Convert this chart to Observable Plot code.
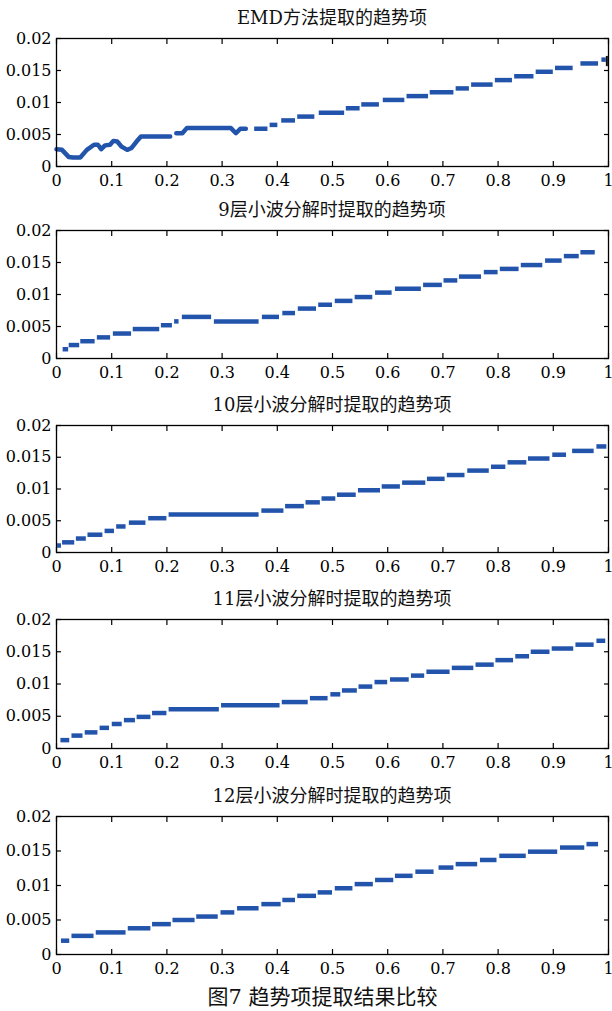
<!DOCTYPE html>
<html><head><meta charset="utf-8">
<script src="https://cdn.jsdelivr.net/npm/d3@7"></script>
<script src="https://cdn.jsdelivr.net/npm/@observablehq/plot@0.6"></script>
<style>
body{margin:0;background:#fff;width:612px;height:1011px;position:relative;overflow:hidden;font-family:"DejaVu Serif","Noto Sans CJK SC",serif;color:#111;}
.panel{position:absolute;left:0;}
.panel svg text{font-family:"DejaVu Serif",serif;}
.title{position:absolute;left:56px;width:552px;text-align:center;font-size:18px;line-height:20px;white-space:nowrap;}
.caption{position:absolute;left:0;width:645px;text-align:center;font-size:21px;line-height:24px;white-space:nowrap;}
</style></head><body>
<script>
// ---- tick labels ----
const xTicks = [0, 0.1, 0.2, 0.3, 0.4, 0.5, 0.6, 0.7, 0.8, 0.9, 1];
const xTickLabels = ["0", "0.1", "0.2", "0.3", "0.4", "0.5", "0.6", "0.7", "0.8", "0.9", "1"];
const yTicks = [0, 0.005, 0.01, 0.015, 0.02];
const yTickLabels = ["0", "0.005", "0.01", "0.015", "0.02"];

const titles = ["EMD方法提取的趋势项", "9层小波分解时提取的趋势项", "10层小波分解时提取的趋势项", "11层小波分解时提取的趋势项", "12层小波分解时提取的趋势项"];
const caption = "图7 趋势项提取结果比较";

// ---- EMD: wavy beginning (curve parts) ----
const emdCurveX = [0, 0.01, 0.022, 0.03, 0.043, 0.055, 0.068, 0.075, 0.081, 0.088, 0.097, 0.103, 0.11, 0.118, 0.128, 0.136, 0.145, 0.153, 0.206,
                   0.217, 0.228, 0.236, 0.316, 0.325, 0.333, 0.343];
const emdCurveY = [0.0027, 0.0026, 0.0015, 0.0014, 0.0014, 0.0026, 0.0034, 0.0034, 0.0027, 0.0033, 0.0034, 0.0040, 0.0039, 0.0031, 0.0026, 0.0029, 0.0039, 0.0047, 0.0047,
                   0.0052, 0.0052, 0.0060, 0.0060, 0.0052, 0.0059, 0.0059];
const emdCurvePart = [1,1,1,1,1,1,1,1,1,1,1,1,1,1,1,1,1,1,1, 2,2,2,2,2,2,2];

// ---- EMD steps ----
const emdStart = [0.359, 0.387, 0.408, 0.437, 0.476, 0.525, 0.553, 0.592, 0.635, 0.677, 0.724, 0.752, 0.795, 0.830, 0.869, 0.904, 0.950, 0.988];
const emdEnd   = [0.383, 0.401, 0.433, 0.468, 0.522, 0.550, 0.585, 0.631, 0.674, 0.720, 0.748, 0.791, 0.826, 0.865, 0.900, 0.936, 0.982, 0.996];
const emdValue = [0.0059, 0.0065, 0.0072, 0.0078, 0.0084, 0.0091, 0.0097, 0.0104, 0.0110, 0.0116, 0.0122, 0.0128, 0.0135, 0.0141, 0.0148, 0.0154, 0.0161, 0.0167];
// small black end marker of the EMD trace
const emdEndMarkX = [0.997];
const emdEndMarkLow = [0.0156];
const emdEndMarkHigh = [0.0172];

// ---- 9 levels ----
const w9Start = [0.012, 0.023, 0.044, 0.074, 0.103, 0.139, 0.190, 0.214, 0.228, 0.286, 0.373, 0.410, 0.438, 0.475, 0.505, 0.541, 0.578, 0.614, 0.665, 0.702, 0.730, 0.775, 0.804, 0.842, 0.886, 0.920, 0.950];
const w9End   = [0.022, 0.042, 0.070, 0.098, 0.136, 0.187, 0.210, 0.222, 0.281, 0.367, 0.404, 0.433, 0.471, 0.500, 0.537, 0.573, 0.608, 0.661, 0.699, 0.727, 0.770, 0.800, 0.838, 0.881, 0.916, 0.947, 0.976];
const w9Value = [0.00145, 0.0021, 0.0027, 0.0033, 0.0039, 0.0046, 0.0052, 0.0058, 0.0065, 0.0058, 0.0065, 0.0071, 0.0078, 0.0084, 0.0090, 0.0096, 0.0103, 0.0109, 0.0115, 0.0122, 0.0128, 0.0135, 0.0140, 0.0146, 0.0153, 0.0160, 0.0166];

// ---- 10 levels ----
const w10Start = [0.002, 0.011, 0.036, 0.057, 0.088, 0.109, 0.132, 0.167, 0.204, 0.372, 0.415, 0.452, 0.481, 0.509, 0.547, 0.590, 0.627, 0.672, 0.708, 0.745, 0.788, 0.818, 0.855, 0.899, 0.935, 0.979];
const w10End   = [0.009, 0.033, 0.054, 0.084, 0.105, 0.126, 0.162, 0.200, 0.367, 0.412, 0.449, 0.478, 0.506, 0.543, 0.587, 0.623, 0.669, 0.704, 0.740, 0.784, 0.814, 0.852, 0.894, 0.924, 0.974, 0.997];
const w10Value = [0.0011, 0.0016, 0.0022, 0.0028, 0.0034, 0.0041, 0.0047, 0.0054, 0.0060, 0.0066, 0.0073, 0.0079, 0.0085, 0.0091, 0.0098, 0.0104, 0.0110, 0.0116, 0.0122, 0.0129, 0.0135, 0.0142, 0.0148, 0.0154, 0.0160, 0.0167];

// ---- 11 levels ----
const w11Start = [0.008, 0.028, 0.052, 0.079, 0.101, 0.123, 0.146, 0.174, 0.204, 0.299, 0.409, 0.460, 0.497, 0.518, 0.548, 0.577, 0.605, 0.643, 0.671, 0.717, 0.760, 0.796, 0.832, 0.860, 0.898, 0.941, 0.979];
const w11End   = [0.024, 0.048, 0.075, 0.096, 0.119, 0.143, 0.171, 0.200, 0.295, 0.405, 0.456, 0.492, 0.515, 0.545, 0.573, 0.600, 0.639, 0.667, 0.713, 0.756, 0.793, 0.828, 0.857, 0.894, 0.937, 0.974, 0.995];
const w11Value = [0.0013, 0.0020, 0.0025, 0.0032, 0.0038, 0.0044, 0.0049, 0.0055, 0.0061, 0.0067, 0.0072, 0.0078, 0.0084, 0.0090, 0.0096, 0.0103, 0.0107, 0.0113, 0.0119, 0.0125, 0.0130, 0.0137, 0.0143, 0.0150, 0.0155, 0.0161, 0.0167];

// ---- 12 levels ----
const w12Start = [0.009, 0.028, 0.072, 0.130, 0.174, 0.211, 0.254, 0.298, 0.328, 0.372, 0.410, 0.437, 0.474, 0.505, 0.541, 0.578, 0.614, 0.651, 0.693, 0.724, 0.768, 0.803, 0.855, 0.913, 0.961];
const w12End   = [0.024, 0.068, 0.126, 0.171, 0.208, 0.251, 0.293, 0.323, 0.367, 0.407, 0.433, 0.471, 0.500, 0.537, 0.574, 0.611, 0.646, 0.684, 0.720, 0.763, 0.798, 0.851, 0.908, 0.957, 0.982];
const w12Value = [0.0020, 0.0027, 0.0032, 0.0038, 0.0044, 0.0050, 0.0055, 0.0061, 0.0067, 0.0073, 0.0079, 0.0085, 0.0090, 0.0096, 0.0102, 0.0108, 0.0114, 0.0120, 0.0126, 0.0131, 0.0137, 0.0143, 0.0149, 0.0155, 0.0160];

const blue = "#2354ab";
const stepSets = [
  [emdStart, emdEnd, emdValue],
  [w9Start, w9End, w9Value],
  [w10Start, w10End, w10Value],
  [w11Start, w11End, w11Value],
  [w12Start, w12End, w12Value]
];
const frameTops = [38, 230, 425, 619, 816];
const frameBottoms = [166, 358, 552, 748, 954];
const padTop = 6, padBottom = 30;

function steps(s, e, v) { return v.map((val, i) => ({a: s[i], b: e[i], v: val})); }

stepSets.forEach(([s, e, v], k) => {
  const marks = [];
  if (k === 0) {
    const curve = emdCurveX.map((x, i) => ({x, y: emdCurveY[i], part: emdCurvePart[i]}));
    marks.push(Plot.line(curve, {x: "x", y: "y", z: "part", stroke: blue, strokeWidth: 4.5, strokeLinejoin: "round"}));
  }
  marks.push(Plot.ruleY(steps(s, e, v), {x1: "a", x2: "b", y: "v", stroke: blue, strokeWidth: 4.5}));
  if (k === 0) {
    marks.push(Plot.ruleX(emdEndMarkX.map((x, i) => ({x, lo: emdEndMarkLow[i], hi: emdEndMarkHigh[i]})), {x: "x", y1: "lo", y2: "hi", stroke: "#111", strokeWidth: 2}));
  }
  marks.push(
    Plot.frame({stroke: "#000", strokeWidth: 1.3}),
    Plot.axisX(xTicks, {anchor: "bottom", tickSize: 0, tickPadding: 8, tickFormat: d => xTickLabels[xTicks.indexOf(d)], fontSize: 16}),
    Plot.axisX(xTicks, {anchor: "bottom", tickSize: -5, tickFormat: () => "", strokeWidth: 1.2}),
    Plot.axisX(xTicks, {anchor: "top", tickSize: -5, tickFormat: () => "", strokeWidth: 1.2}),
    Plot.axisY(yTicks, {anchor: "left", tickSize: 0, tickPadding: 5, tickFormat: d => yTickLabels[yTicks.indexOf(d)], fontSize: 16}),
    Plot.axisY(yTicks, {anchor: "left", tickSize: -5, tickFormat: () => "", strokeWidth: 1.2}),
    Plot.axisY(yTicks, {anchor: "right", tickSize: -5, tickFormat: () => "", strokeWidth: 1.2})
  );
  const h = frameBottoms[k] - frameTops[k];
  const chart = Plot.plot({
    width: 612,
    height: h + padTop + padBottom,
    marginLeft: 56, marginRight: 4, marginTop: padTop, marginBottom: padBottom,
    x: {domain: [0, 1], label: null},
    y: {domain: [0, 0.02], label: null},
    style: {fontFamily: "DejaVu Serif, serif", fontSize: "16px", color: "#000", background: "transparent", overflow: "visible"},
    marks
  });
  const div = document.createElement("div");
  div.className = "panel";
  div.style.top = (frameTops[k] - padTop) + "px";
  div.appendChild(chart);
  document.body.appendChild(div);

  const t = document.createElement("div");
  t.className = "title";
  t.style.top = (frameTops[k] - 30) + "px";
  t.textContent = titles[k];
  document.body.appendChild(t);
});

const cap = document.createElement("div");
cap.className = "caption";
cap.style.top = "985px";
cap.textContent = caption;
document.body.appendChild(cap);
</script>
</body></html>
